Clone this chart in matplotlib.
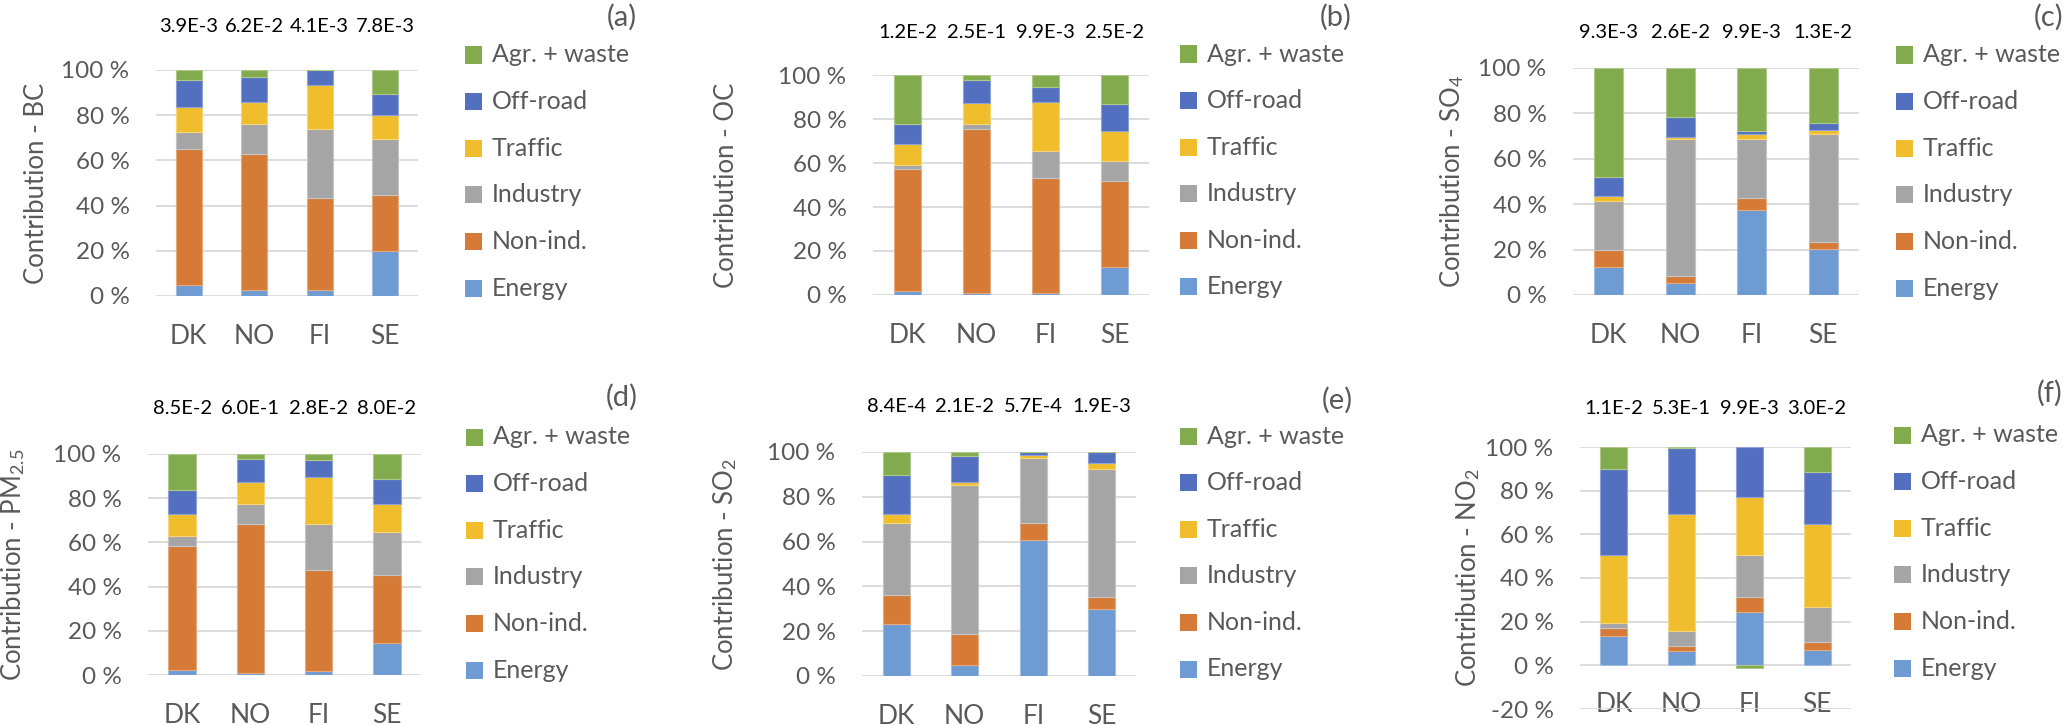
import matplotlib
matplotlib.use('Agg')
import matplotlib.pyplot as plt
from matplotlib.patches import Rectangle
from matplotlib.colors import to_rgb
import numpy as np

plt.rcParams['font.family'] = ['Lato', 'DejaVu Sans']
plt.rcParams['mathtext.fontset'] = 'custom'
plt.rcParams['mathtext.rm'] = 'Lato'
plt.rcParams['mathtext.it'] = 'Lato:italic'
plt.rcParams['mathtext.bf'] = 'Lato:bold'

countries = ['DK', 'NO', 'FI', 'SE']
sectors = ['Energy', 'Non-ind.', 'Industry', 'Traffic', 'Off-road', 'Agr. + waste']
colors = ['#6F9BD3', '#D57B37', '#A5A5A5', '#F0BE2D', '#5370C0', '#82AB4D']

# rows: Energy, Non-ind., Industry, Traffic, Off-road, Agr.+waste ; columns: DK, NO, FI, SE (%)
bc = [[4.9, 2.5, 2.5, 19.9], [60.1, 60.3, 40.7, 24.8], [7.4, 13.4, 30.8, 24.9],
      [11.3, 9.8, 19.4, 10.4], [11.9, 11.1, 6.6, 9.6], [4.4, 2.9, 0.0, 10.4]]
oc = [[1.7, 0.8, 0.8, 12.6], [55.4, 74.7, 52.4, 39.1], [2.1, 2.4, 12.3, 9.2],
      [9.3, 9.2, 22.4, 13.8], [9.4, 10.8, 6.8, 12.3], [22.1, 2.1, 5.3, 13.0]]
so4 = [[12.2, 5.4, 37.6, 20.3], [7.5, 3.1, 5.0, 2.9], [21.5, 60.3, 26.1, 47.7],
       [2.2, 0.9, 2.3, 1.7], [8.4, 8.8, 1.4, 3.0], [48.2, 21.5, 27.6, 24.4]]
pm25 = [[2.4, 0.8, 1.7, 14.3], [55.8, 67.3, 45.9, 31.1], [4.6, 9.4, 20.5, 19.1],
        [10.0, 9.8, 21.6, 13.1], [10.7, 10.6, 7.4, 11.0], [16.5, 2.1, 2.9, 11.4]]
so2 = [[23.1, 5.1, 60.9, 30.0], [12.9, 13.6, 7.5, 5.1], [32.5, 66.4, 28.8, 57.4],
       [3.7, 1.5, 1.3, 2.6], [17.4, 11.5, 1.5, 4.9], [10.4, 1.9, 0.0, 0.0]]
no2 = [[13.3, 6.4, 24.2, 7.2], [3.9, 2.5, 6.9, 3.5], [2.1, 6.7, 19.4, 15.8],
       [31.4, 53.6, 26.5, 38.1], [39.3, 30.2, 23.0, 24.1], [10.0, 0.6, -1.2, 11.3]]

bc_tot = ['3.9E-3', '6.2E-2', '4.1E-3', '7.8E-3']
oc_tot = ['1.2E-2', '2.5E-1', '9.9E-3', '2.5E-2']
so4_tot = ['9.3E-3', '2.6E-2', '9.9E-3', '1.3E-2']
pm25_tot = ['8.5E-2', '6.0E-1', '2.8E-2', '8.0E-2']
so2_tot = ['8.4E-4', '2.1E-2', '5.7E-4', '1.9E-3']
no2_tot = ['1.1E-2', '5.3E-1', '9.9E-3', '3.0E-2']

ylabels = ['Contribution - BC', 'Contribution - OC', 'Contribution - SO$_4$',
           'Contribution - PM$_{2.5}$', 'Contribution - SO$_2$', 'Contribution - NO$_2$']
panel_tags = ['(a)', '(b)', '(c)', '(d)', '(e)', '(f)']

W, H = 2067, 725
fig = plt.figure(figsize=(W / 100, H / 100), dpi=100)

def fx(x):
    return x / W

def fy(y):
    return 1 - y / H

# layout in pixels: x0, x1, ytop, ybottom, ylabel x, annot y, legend square x, legend first row y, tag right x, tag y
layout = [
    (156, 418, 70, 296, 37, 27, 465, 55, 637, 17),
    (873, 1149, 75, 295, 727, 33, 1180, 54, 1352, 17),
    (1573, 1859, 68, 295, 1452, 32, 1896, 55, 2063, 17),
    (148, 421, 454, 675, 13, 408, 466, 437, 638, 397),
    (862, 1136, 452, 676, 725, 407, 1180, 436, 1353, 400),
    (1580, 1851, 447, 709, 1468, 408, 1894, 435, 2062, 393),
]
datasets = [bc, oc, so4, pm25, so2, no2]
totals = [bc_tot, oc_tot, so4_tot, pm25_tot, so2_tot, no2_tot]

tick_col = '#595959'
grid_col = '#D9D9D9'

for i, (data, tot) in enumerate(zip(datasets, totals)):
    x0, x1, yt, yb, ylx, any_, lgx, lgy, tagx, tagy = layout[i]
    ax = fig.add_axes([fx(x0), fy(yb), (x1 - x0) / W, (yb - yt) / H])
    xs = np.arange(len(countries))
    pos_bottom = np.zeros(len(countries))
    neg_bottom = np.zeros(len(countries))
    for k, (name, col) in enumerate(zip(sectors, colors)):
        vals = np.array(data[k], dtype=float)
        bottoms = np.where(vals >= 0, pos_bottom, neg_bottom)
        rgb = np.array(to_rgb(col))
        edge = tuple(rgb + (1 - rgb) * 0.35)
        ax.bar(xs, vals, width=0.4, bottom=bottoms, color=col, edgecolor=edge,
               linewidth=0.8, zorder=3)
        pos_bottom = pos_bottom + np.where(vals >= 0, vals, 0)
        neg_bottom = neg_bottom + np.where(vals < 0, vals, 0)
    ax.set_xlim(-0.5, len(countries) - 0.5)
    if i == 5:
        ax.set_ylim(-20, 100)
        ticks = np.arange(-20, 101, 20)
    else:
        ax.set_ylim(0, 100)
        ticks = np.arange(0, 101, 20)
    ax.set_yticks(ticks)
    ax.set_yticklabels([f'{t} %' for t in ticks])
    ax.set_xticks(xs)
    ax.set_xticklabels(countries)
    ax.tick_params(axis='both', length=0, labelsize=17.5, colors=tick_col)
    ax.tick_params(axis='y', pad=19)
    ax.tick_params(axis='x', pad=(-12 if i == 5 else 20), labelsize=19)
    for s in ax.spines.values():
        s.set_visible(False)
    ax.yaxis.grid(True, color=grid_col, linewidth=1.3, zorder=0)
    ax.set_axisbelow(True)
    # y label
    fig.text(fx(ylx), fy((yt + yb) / 2), ylabels[i], rotation=90, ha='center', va='center',
             fontsize=18.5, color=tick_col)
    # totals above bars
    for j, t in enumerate(tot):
        xd = ax.transData.transform((xs[j], 0))[0]
        fig.text(xd / W, fy(any_), t, ha='center', va='center', fontsize=14.5, color='black')
    # panel tag
    fig.text(fx(tagx), fy(tagy), panel_tags[i], ha='right', va='center', fontsize=21, color=tick_col)
    # legend (reverse order, Agr. + waste on top)
    step = 46.6
    for r, k in enumerate(range(len(sectors) - 1, -1, -1)):
        cy = lgy + r * step
        fig.add_artist(Rectangle((fx(lgx), fy(cy + 8.5)), 17 / W, 17 / H,
                                 facecolor=colors[k], edgecolor='none', transform=fig.transFigure))
        fig.text(fx(lgx + 27), fy(cy), sectors[k], ha='left', va='center', fontsize=18,
                 color=tick_col)

fig.savefig('out.png', dpi=100)
